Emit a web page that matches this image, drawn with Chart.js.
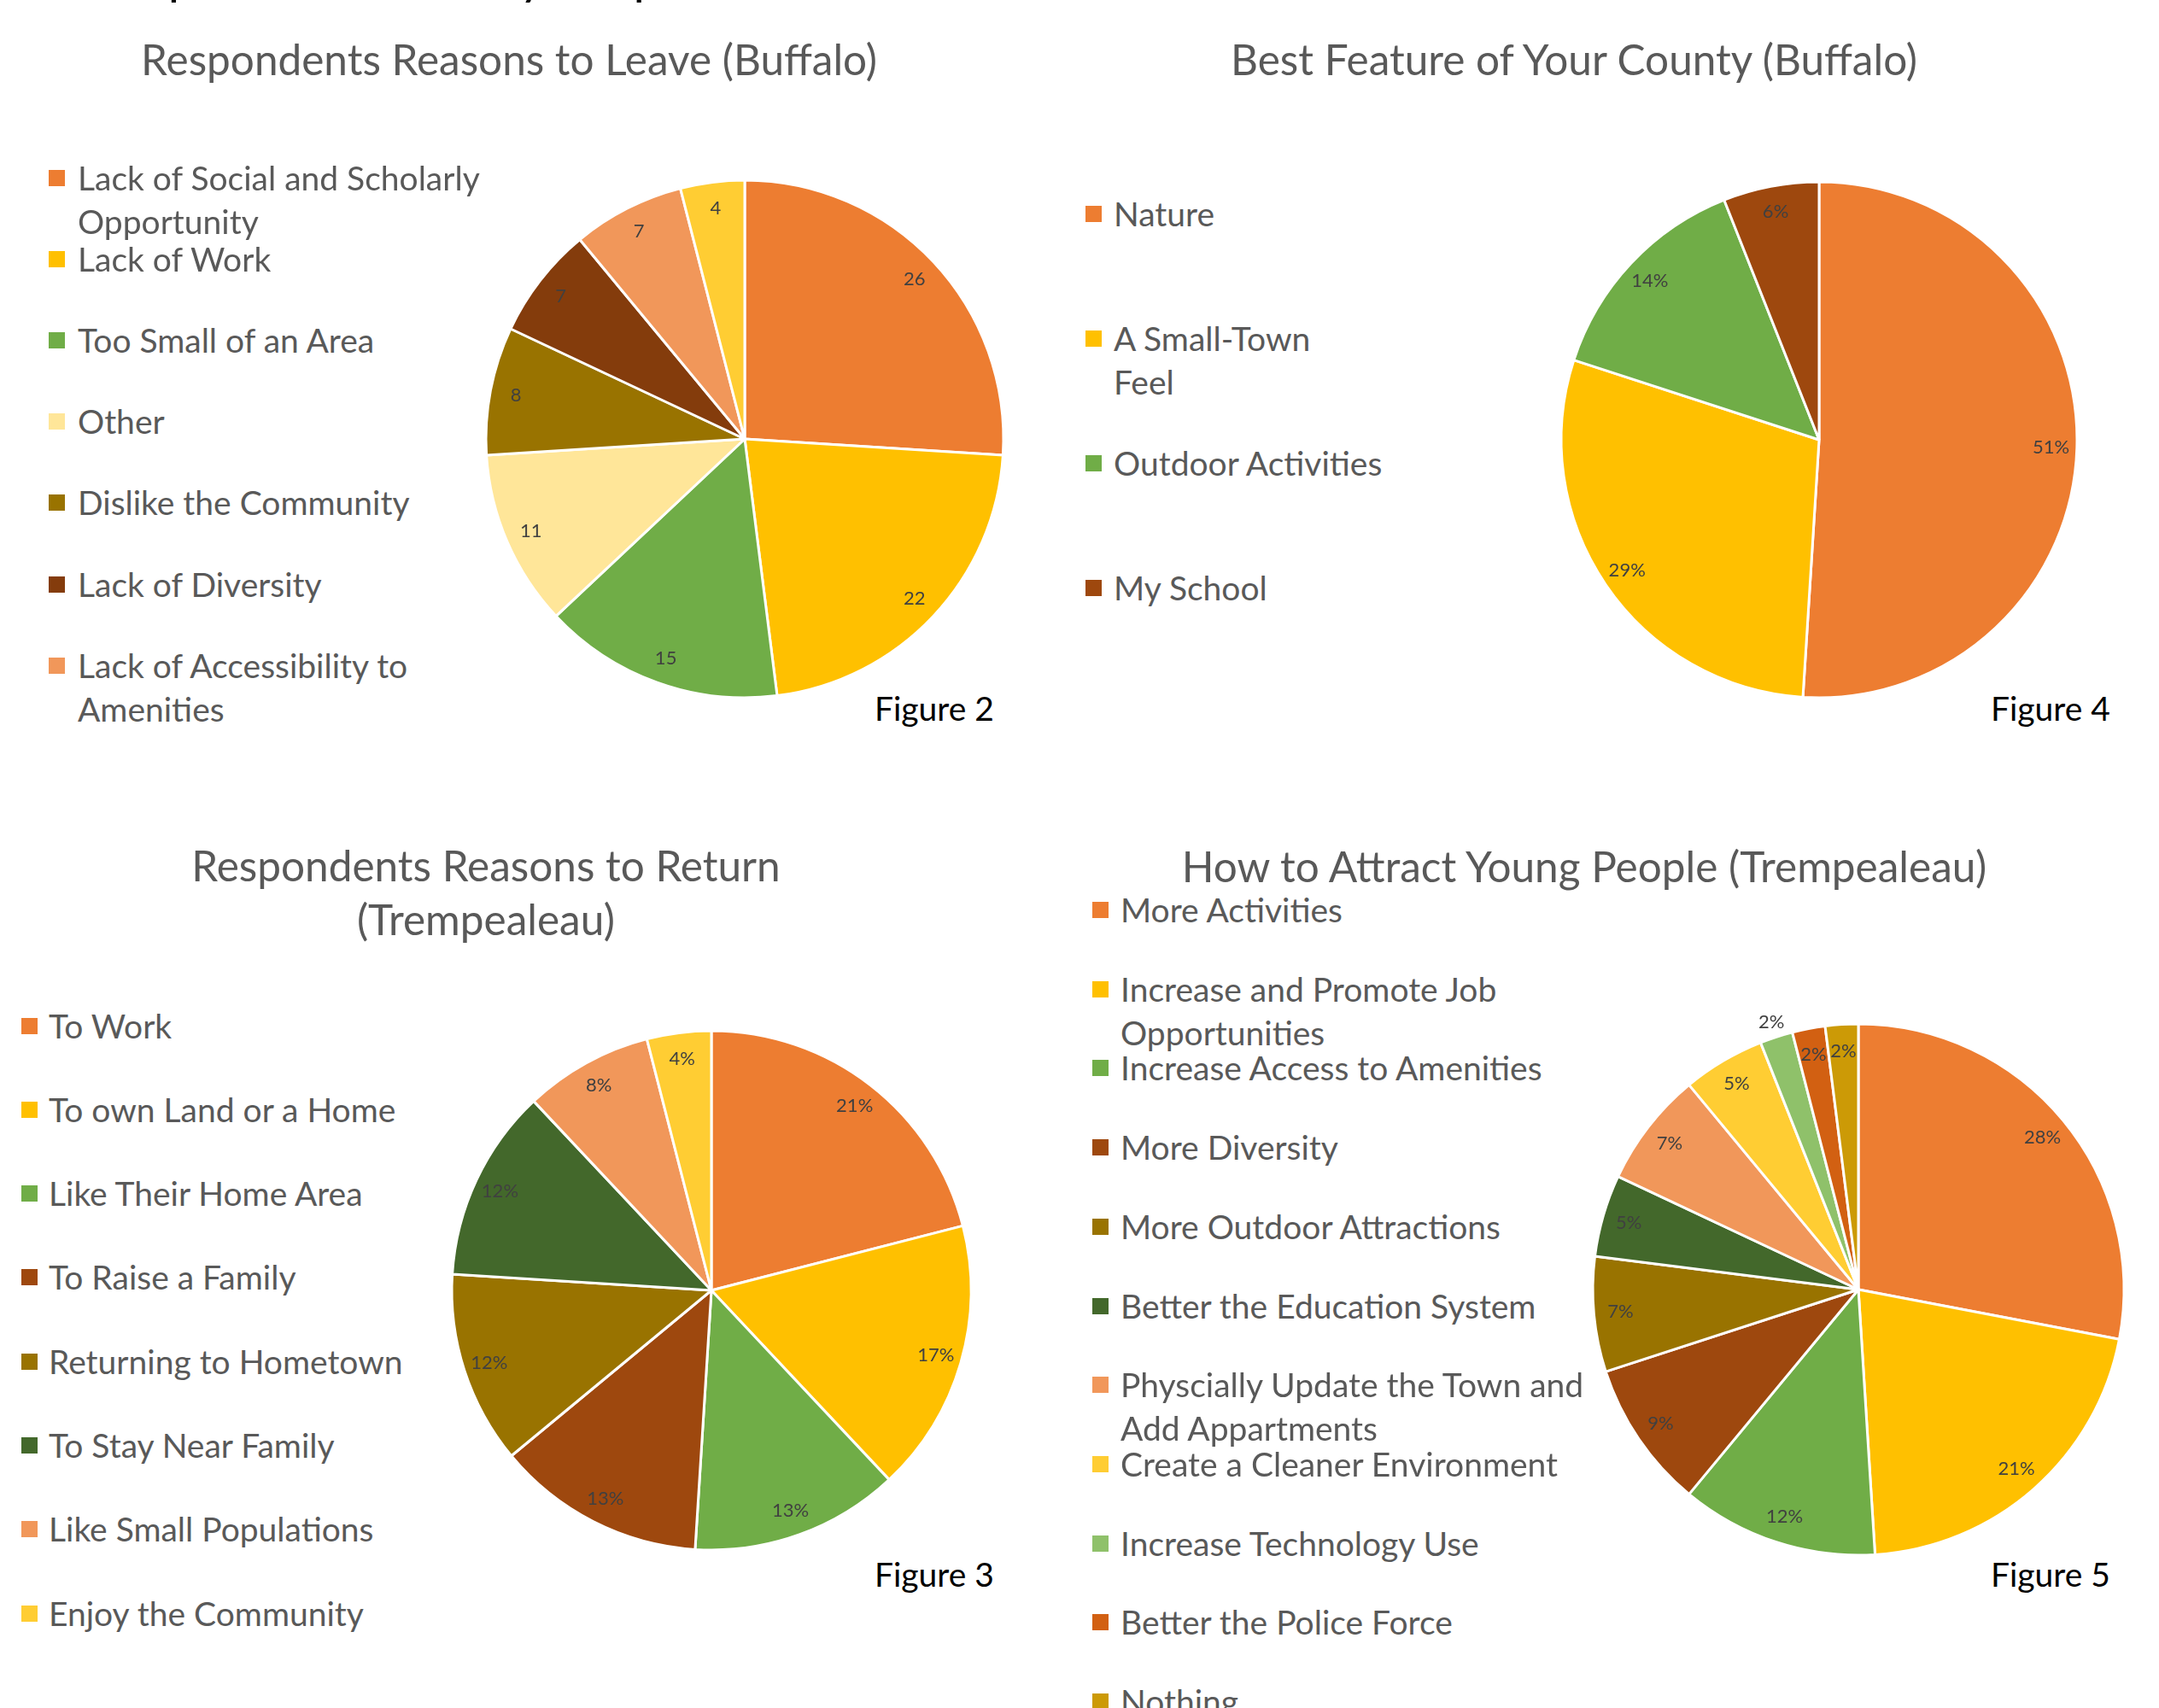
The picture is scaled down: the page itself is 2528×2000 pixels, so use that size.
<!DOCTYPE html>
<html>
<head>
<meta charset="utf-8">
<script src="https://cdn.jsdelivr.net/npm/chart.js@4.4.0/dist/chart.umd.min.js"></script>
<style>
  html, body { margin: 0; padding: 0; background: #fff; }
  body { width: 2528px; height: 2000px; overflow: hidden; position: relative; font-family: Lato, 'Open Sans', sans-serif; }
  .heading { position: absolute; left: 78px; top: -58px; font-size: 58px; line-height: 1; color: #000; white-space: nowrap; }
  .title { position: absolute; color: #595959; font-size: 49.5px; line-height: 63px; text-align: center; transform: translate(-50%, -50%); }
  .fig { position: absolute; color: #000; font-size: 39px; line-height: 1; transform: translateY(-50%); white-space: nowrap; }
  .item { position: absolute; color: #595959; font-size: 39px; line-height: 51px; white-space: nowrap; }
  .item .mk { position: absolute; left: 0; top: 16px; width: 19px; height: 19px; }
  .item .tx { position: absolute; top: 0; }
  canvas { position: absolute; }
</style>
</head>
<body>
<div class="heading">Comparison of Survey Responses</div>

<div class="title" style="left:596px; top:69px; width:1100px;">Respondents Reasons to Leave (Buffalo)</div>
<div class="title" style="left:1843px; top:69px; width:1100px;">Best Feature of Your County (Buffalo)</div>
<div class="title" style="left:569px; top:1045px; width:760px;">Respondents Reasons to Return (Trempealeau)</div>
<div class="title" style="left:1855px; top:1014px; width:1100px;">How to Attract Young People (Trempealeau)</div>

<div class="fig" style="left:1024px; top:829px;">Figure 2</div>
<div class="fig" style="left:2331px; top:829px;">Figure 4</div>
<div class="fig" style="left:1024px; top:1843px;">Figure 3</div>
<div class="fig" style="left:2331px; top:1843px;">Figure 5</div>

<canvas id="leaveChart" width="700" height="700" style="left:522px; top:164px;"></canvas>
<canvas id="featureChart" width="700" height="700" style="left:1780px; top:165px;"></canvas>
<canvas id="returnChart" width="700" height="700" style="left:483px; top:1161px;"></canvas>
<canvas id="attractChart" width="700" height="700" style="left:1826px; top:1160px;"></canvas>

<script>
// Figure 2 - reasons to leave (Buffalo), counts
const leaveLabels = [
  'Lack of Social and Scholarly Opportunity',
  'Lack of Work',
  'Too Small of an Area',
  'Other',
  'Dislike the Community',
  'Lack of Diversity',
  'Lack of Accessibility to Amenities',
  '(not listed)',
];
const leaveValues = [26, 22, 15, 11, 8, 7, 7, 4];

// Figure 4 - best feature (Buffalo), percent
const featureLabels = ['Nature', 'A Small-Town Feel', 'Outdoor Activities', 'My School'];
const featureValues = [51, 29, 14, 6];

// Figure 3 - reasons to return (Trempealeau), percent
const returnLabels = [
  'To Work',
  'To own Land or a Home',
  'Like Their Home Area',
  'To Raise a Family',
  'Returning to Hometown',
  'To Stay Near Family',
  'Like Small Populations',
  'Enjoy the Community',
];
const returnValues = [21, 17, 13, 13, 12, 12, 8, 4];

// Figure 5 - how to attract young people (Trempealeau), percent
const attractLabels = [
  'More Activities',
  'Increase and Promote Job Opportunities',
  'Increase Access to Amenities',
  'More Diversity',
  'More Outdoor Attractions',
  'Better the Education System',
  'Physcially Update the Town and Add Appartments',
  'Create a Cleaner Environment',
  'Increase Technology Use',
  'Better the Police Force',
  'Nothing',
];
const attractValues = [28, 21, 12, 9, 7, 5, 7, 5, 2, 2, 2];

const leaveColors = ['#ED7D31', '#FFC000', '#70AD47', '#FFE699', '#997300', '#843C0C', '#F1975A', '#FFCD33'];
const featureColors = ['#ED7D31', '#FFC000', '#70AD47', '#9E480E'];
const returnColors = ['#ED7D31', '#FFC000', '#70AD47', '#9E480E', '#997300', '#43682B', '#F1975A', '#FFCD33'];
const attractColors = ['#ED7D31', '#FFC000', '#70AD47', '#9E480E', '#997300', '#43682B', '#F1975A', '#FFCD33', '#8FC16A', '#D26012', '#CC9A06'];

// value labels drawn near the outer edge of each slice
const sliceLabels = {
  id: 'sliceLabels',
  afterDatasetsDraw(chart, args, opts) {
    const { ctx } = chart;
    const meta = chart.getDatasetMeta(0);
    const values = chart.data.datasets[0].data;
    const outside = opts.outside || [];
    ctx.save();
    ctx.font = '22px Lato, sans-serif';
    ctx.fillStyle = '#404040';
    ctx.textAlign = 'center';
    ctx.textBaseline = 'middle';
    meta.data.forEach((arc, i) => {
      const { x, y, startAngle, endAngle, outerRadius } =
        arc.getProps(['x', 'y', 'startAngle', 'endAngle', 'outerRadius'], true);
      const mid = (startAngle + endAngle) / 2;
      const f = outside.includes(i) ? 1.06 : 0.9;
      ctx.fillText(values[i] + (opts.suffix || ''),
        x + Math.cos(mid) * outerRadius * f,
        y + Math.sin(mid) * outerRadius * f);
    });
    ctx.restore();
  },
};

function makePie(id, labels, values, colors, radius, labelOpts) {
  return new Chart(document.getElementById(id), {
    type: 'pie',
    data: {
      labels,
      datasets: [{
        data: values,
        backgroundColor: colors,
        borderColor: '#ffffff',
        borderWidth: 3,
      }],
    },
    options: {
      responsive: false,
      animation: false,
      radius,
      plugins: {
        legend: { display: false },
        tooltip: { enabled: false },
        sliceLabels: labelOpts,
      },
    },
    plugins: [sliceLabels],
  });
}

makePie('leaveChart', leaveLabels, leaveValues, leaveColors, 303, { suffix: '' });
makePie('featureChart', featureLabels, featureValues, featureColors, 302, { suffix: '%' });
makePie('returnChart', returnLabels, returnValues, returnColors, 304, { suffix: '%' });
makePie('attractChart', attractLabels, attractValues, attractColors, 311, { suffix: '%', outside: [8] });

// side legends, as Excel laid them out
function makeLegend(labels, colors, cfg) {
  const count = cfg.count || labels.length;
  for (let i = 0; i < count; i++) {
    const item = document.createElement('div');
    item.className = 'item';
    item.style.left = cfg.left + 'px';
    item.style.top = (cfg.top + cfg.step * i - 25.5) + 'px';

    const mk = document.createElement('span');
    mk.className = 'mk';
    mk.style.background = colors[i];
    item.appendChild(mk);

    const tx = document.createElement('span');
    tx.className = 'tx';
    tx.style.left = cfg.textOffset + 'px';
    const words = labels[i].split(' ');
    const br = cfg.breaks && cfg.breaks[i];
    if (br) {
      tx.appendChild(document.createTextNode(words.slice(0, br).join(' ')));
      tx.appendChild(document.createElement('br'));
      tx.appendChild(document.createTextNode(words.slice(br).join(' ')));
    } else {
      tx.textContent = labels[i];
    }
    item.appendChild(tx);
    document.body.appendChild(item);
  }
}

makeLegend(leaveLabels, leaveColors, { left: 57, textOffset: 34, top: 208, step: 95.2, count: 7, breaks: { 0: 5, 6: 4 } });
makeLegend(featureLabels, featureColors, { left: 1271, textOffset: 33, top: 250, step: 146, breaks: { 1: 2 } });
makeLegend(returnLabels, returnColors, { left: 25, textOffset: 32, top: 1201, step: 98.3 });
makeLegend(attractLabels, attractColors, { left: 1279, textOffset: 33, top: 1065.5, step: 92.7, breaks: { 1: 4, 6: 5 } });
</script>
</body>
</html>
